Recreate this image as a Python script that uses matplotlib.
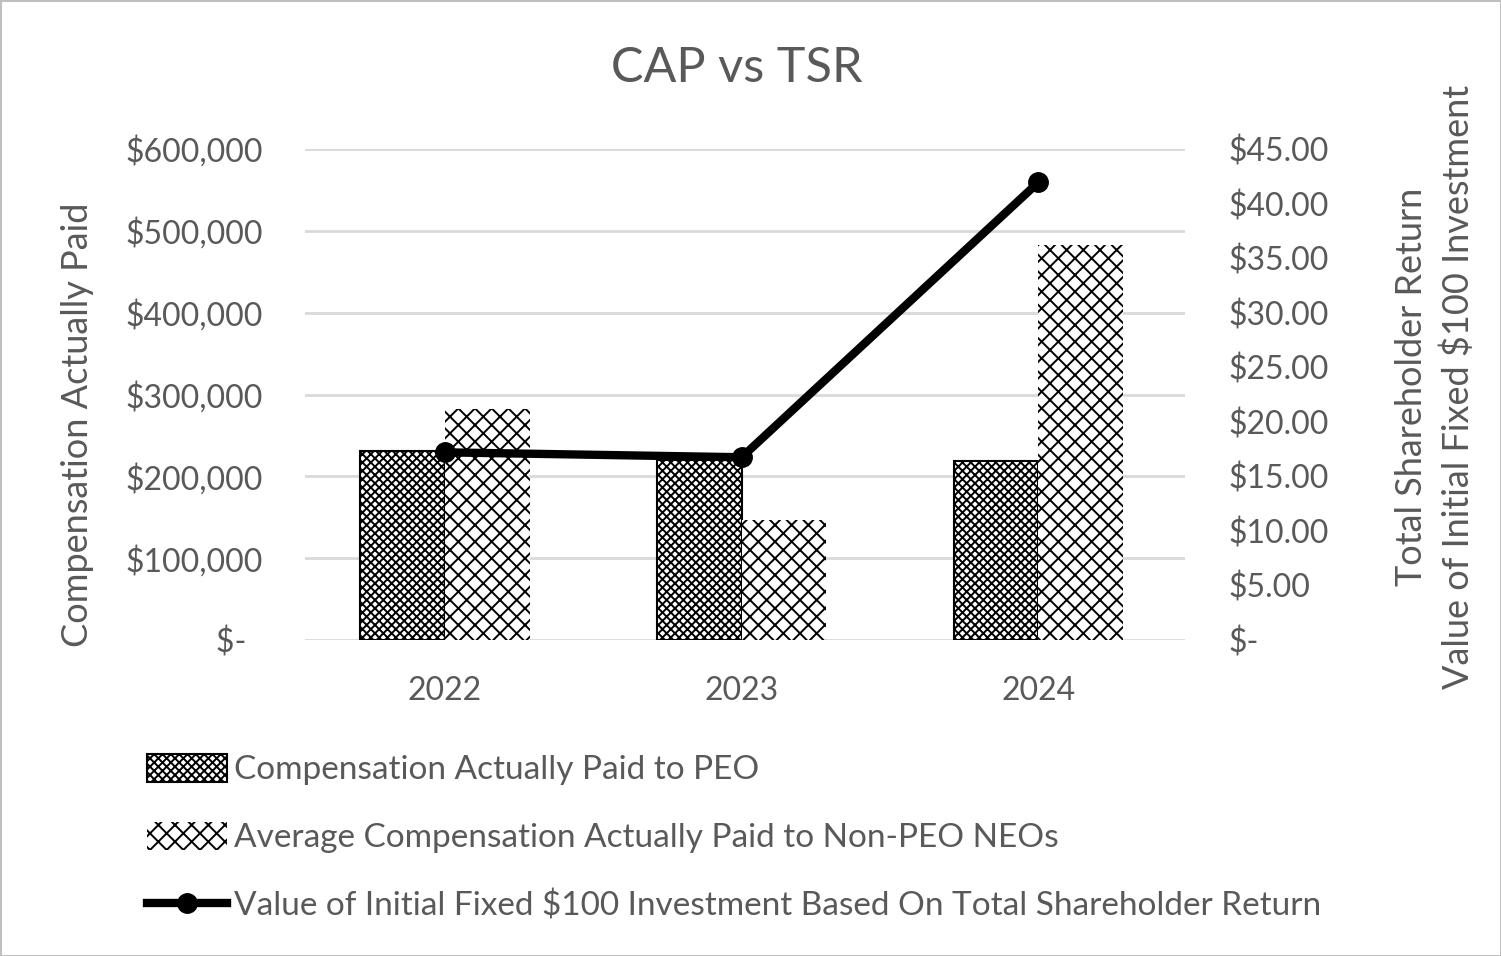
import matplotlib
matplotlib.use('Agg')
import matplotlib.pyplot as plt
import numpy as np
from matplotlib.patches import Patch
from matplotlib.lines import Line2D

plt.rcParams['font.family'] = ['Lato', 'DejaVu Sans']
plt.rcParams['hatch.linewidth'] = 1.4

years = ['2022', '2023', '2024']
cap_peo = [231000, 220000, 219000]
cap_non_peo = [282000, 147000, 483000]
tsr = [17.2, 16.75, 41.95]

left_ticks = [0, 100000, 200000, 300000, 400000, 500000, 600000]
left_labels = ['$-  ', '$100,000', '$200,000', '$300,000', '$400,000', '$500,000', '$600,000']
right_ticks = [0, 5, 10, 15, 20, 25, 30, 35, 40, 45]
right_labels = ['$-', '$5.00', '$10.00', '$15.00', '$20.00', '$25.00', '$30.00', '$35.00', '$40.00', '$45.00']

grey = '#595959'
W, H = 1501, 956
fig = plt.figure(figsize=(W / 100, H / 100), dpi=100)
fig.patch.set_edgecolor('#BFBFBF')
fig.patch.set_linewidth(2)

ax = fig.add_axes([305 / W, 1 - 640 / H, 880 / W, 491 / H])
x = np.arange(len(years))
bw = 0.285
ax.bar(x - bw / 2, cap_peo, bw, facecolor='white', edgecolor='black', linewidth=1.5,
       hatch='xxxx', zorder=2)
ax.bar(x + bw / 2, cap_non_peo, bw, facecolor='white', edgecolor='black', linewidth=0,
       hatch='xx', zorder=2)
ax.set_xlim(-0.472, 2.494)
ax.set_ylim(0, 600000)
ax.set_yticks(left_ticks)
ax.set_yticklabels(left_labels)
ax.set_xticks(x)
ax.set_xticklabels(years)
ax.tick_params(axis='y', length=0, pad=30, labelsize=23, labelcolor=grey)
ax.tick_params(axis='x', length=0, pad=26, labelsize=23, labelcolor=grey)
ax.grid(axis='y', color='#D9D9D9', linewidth=2, zorder=0)
ax.set_axisbelow(True)
for s in ax.spines.values():
    s.set_visible(False)
ax.set_ylabel('Compensation Actually Paid', fontsize=26, color=grey)
ax.yaxis.set_label_coords((94 - 305) / 880, (640 - 425) / 491)

ax2 = ax.twinx()
ax2.plot(x, tsr, color='black', linewidth=6, marker='o', markersize=14, zorder=3)
ax2.set_ylim(0, 45)
ax2.set_yticks(right_ticks)
ax2.set_yticklabels(right_labels)
ax2.tick_params(axis='y', length=0, pad=31, labelsize=23, labelcolor=grey)
for s in ax2.spines.values():
    s.set_visible(False)
ax2.set_ylabel('Total Shareholder Return\nValue of Initial Fixed $100 Investment',
               fontsize=26, color=grey, rotation=90, linespacing=1.45)
ax2.yaxis.set_label_coords((1395 - 305) / 880, (640 - 387) / 491)

fig.text(737 / W, 1 - 68 / H, 'CAP vs TSR', ha='center', va='center', fontsize=35, color=grey)

handles = [
    Patch(facecolor='white', edgecolor='black', hatch='xxxx', linewidth=1.5),
    Patch(facecolor='white', edgecolor='black', hatch='xx', linewidth=0),
    Line2D([0], [0], color='black', linewidth=6, marker='o', markersize=14),
]
labels = ['Compensation Actually Paid to PEO',
          'Average Compensation Actually Paid to Non-PEO NEOs',
          'Value of Initial Fixed $100 Investment Based On Total Shareholder Return']
leg = fig.legend(handles, labels, loc='upper left', bbox_to_anchor=(147 / W, 1 - 754 / H),
                 frameon=False, fontsize=24, labelcolor=grey, handlelength=2.4,
                 handleheight=0.9, handletextpad=0.2, labelspacing=1.1, borderaxespad=0,
                 borderpad=0)

fig.savefig('out.png', dpi=100)
